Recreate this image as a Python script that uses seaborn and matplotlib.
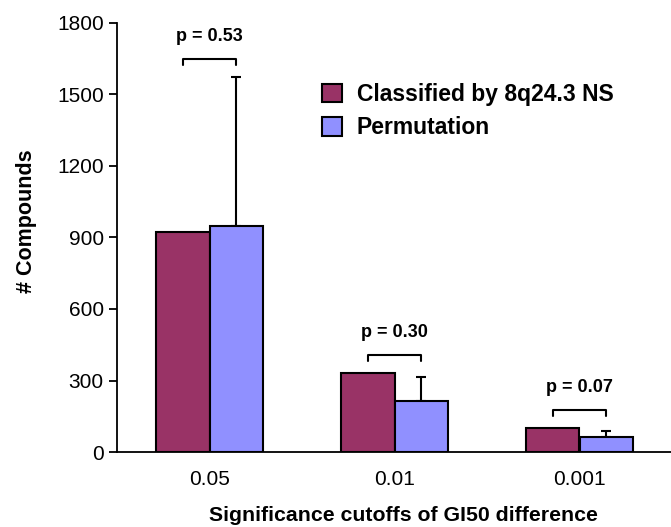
import matplotlib
matplotlib.use("Agg")
import matplotlib.pyplot as plt
import seaborn as sns
import pandas as pd
import numpy as np

# ---- data ----
categories = ["0.05", "0.01", "0.001"]
series_names = ["Classified by 8q24.3 NS", "Permutation"]
classified = [925, 331, 100]
permutation = [950, 213, 63]
permutation_err = [625, 101, 25]
p_labels = ["p = 0.53", "p = 0.30", "p = 0.07"]
y_ticks = [0, 300, 600, 900, 1200, 1500, 1800]

colors = ["#993366", "#9090FF"]

sns.set_style("white")
plt.rcParams["font.family"] = ["Liberation Sans", "DejaVu Sans"]
plt.rcParams["text.color"] = "black"
plt.rcParams["axes.labelcolor"] = "black"
plt.rcParams["xtick.color"] = "black"
plt.rcParams["ytick.color"] = "black"

df = pd.DataFrame({
    "cutoff": categories * 2,
    "count": classified + permutation,
    "series": [series_names[0]] * 3 + [series_names[1]] * 3,
})

W, H = 671, 527
fig = plt.figure(figsize=(W / 100, H / 100), dpi=100)
ax = fig.add_axes([117 / W, 1 - 452 / H, 555 / W, 429 / H])

sns.barplot(data=df, x="cutoff", y="count", hue="series", order=categories,
            hue_order=series_names, palette=colors, saturation=1, width=0.58,
            gap=0, edgecolor="black", linewidth=1.5, errorbar=None, ax=ax,
            zorder=3)

# error bars on permutation bars (upper only)
perm_bars = ax.containers[1]
cls_bars = ax.containers[0]
px = [b.get_x() + b.get_width() / 2 for b in perm_bars]
ax.errorbar(px, permutation, yerr=[np.zeros(3), permutation_err], fmt="none",
            ecolor="black", elinewidth=1.5, capsize=3.5, capthick=1.5, zorder=2)

# significance brackets
for i, lab in enumerate(p_labels):
    cx = cls_bars[i].get_x() + cls_bars[i].get_width() / 2
    bx = px[i]
    top = max(classified[i], permutation[i] + permutation_err[i])
    yb = top + 75
    ax.plot([cx, cx, bx, bx], [yb - 25, yb, yb, yb - 25], color="black", lw=1.5,
            clip_on=False, zorder=4)
    ax.text((cx + bx) / 2, yb + 95, lab, ha="center", va="center",
            fontsize=13, fontweight="bold", color="black")

ax.set_ylim(0, 1800)
ax.set_xlim(-0.5, 2.5)
ax.set_yticks(y_ticks)
ax.set_yticklabels([str(v) for v in y_ticks], fontsize=15)
ax.set_xticks(range(len(categories)))
ax.set_xticklabels(categories, fontsize=15)
ax.set_xticks([-0.5, 0.5, 1.5, 2.5], minor=True)
ax.tick_params(axis="x", which="major", length=0, pad=13)
ax.tick_params(axis="x", which="minor", length=6, width=1.3, direction="out",
               color="black")
ax.tick_params(axis="y", length=5.5, width=1.3, direction="out", pad=4,
               color="black", left=True)

for s in ["top", "right"]:
    ax.spines[s].set_visible(False)
for s in ["left", "bottom"]:
    ax.spines[s].set_color("black")
    ax.spines[s].set_linewidth(1.3)

ax.set_ylabel("# Compounds", fontsize=15.5, fontweight="bold")
ax.yaxis.set_label_coords(-0.145, 0.538)
ax.set_xlabel("Significance cutoffs of GI50 difference", fontsize=15.3,
              fontweight="bold")
ax.xaxis.set_label_coords(0.517, -0.125)

leg = ax.legend(loc="upper left", bbox_to_anchor=(322 / W, 1 - 83 / H),
                bbox_transform=fig.transFigure, frameon=False, borderpad=0,
                borderaxespad=0, handlelength=0.87, handleheight=0.87,
                handletextpad=0.65, labelspacing=0.45,
                prop={"size": 16.5, "weight": "bold"})
for h in leg.legend_handles:
    h.set_edgecolor("black")
    h.set_linewidth(1.5)

fig.savefig("out.png", dpi=100)
